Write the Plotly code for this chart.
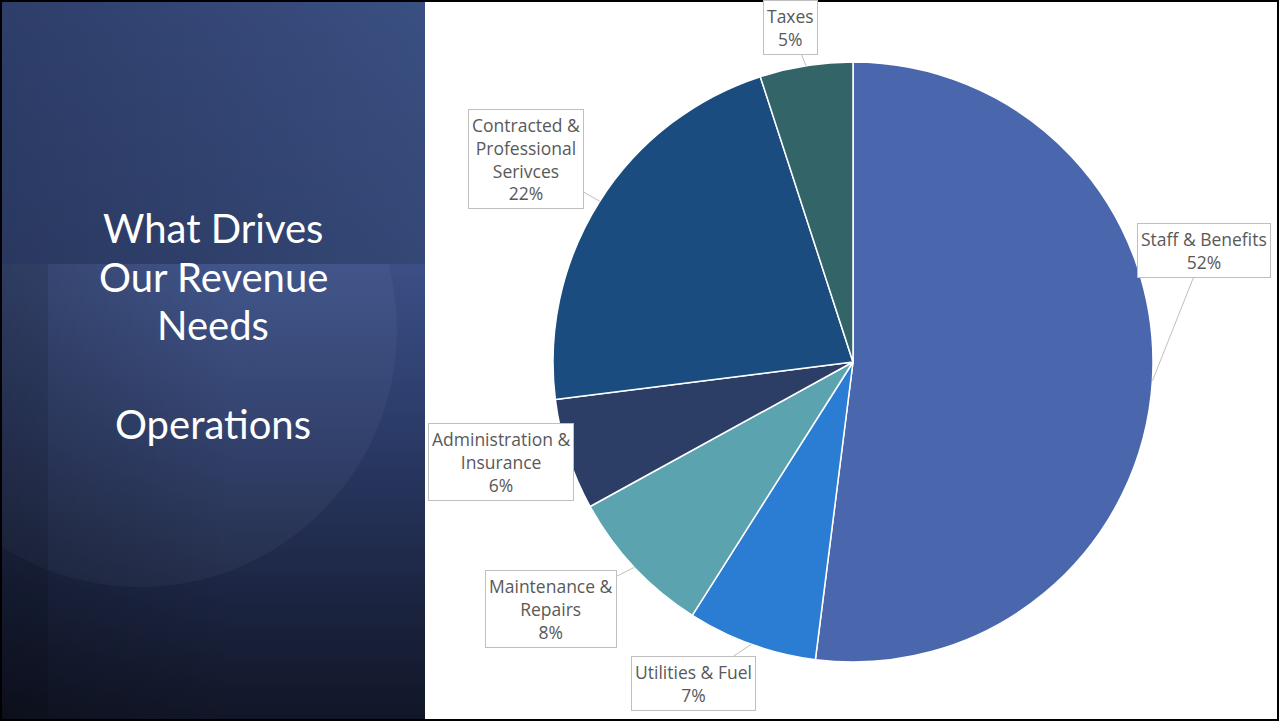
import base64
import math
import plotly.graph_objects as go

# ---- data ----
categories = ["Staff & Benefits", "Utilities & Fuel", "Maintenance & Repairs",
              "Administration & Insurance", "Contracted & Professional Serivces", "Taxes"]
label_text = ["Staff & Benefits", "Utilities & Fuel", "Maintenance &<br>Repairs",
              "Administration &<br>Insurance", "Contracted &<br>Professional<br>Serivces", "Taxes"]
shares = [52, 7, 8, 6, 22, 5]
colors = ["#4A67AE", "#2B7CD3", "#5BA3AE", "#2C3D66", "#1B4C80", "#336468"]
box_centers_px = [(1204, 251), (693, 683), (551, 609), (501, 462), (526, 159), (790, 27)]
title_lines = ["What Drives", "Our Revenue", "Needs", "Operations"]
title_line_y = [228, 277, 325, 424]

W, H = 1279, 721
CX, CY, R = 853, 362, 300
PANEL_W = 425

fig = go.Figure()
fig.add_trace(go.Pie(
    labels=categories, values=shares, sort=False, direction="clockwise", rotation=0,
    marker=dict(colors=colors, line=dict(color="white", width=1.5)),
    textinfo="none", hoverinfo="label+percent", showlegend=False,
    domain=dict(x=[(CX - R) / W, (CX + R) / W], y=[1 - (CY + R) / H, 1 - (CY - R) / H]),
))

total = sum(shares)
cum = 0
annotations = []
for name, val, (bx, by) in zip(label_text, shares, box_centers_px):
    mid = (cum + val / 2) / total * 2 * math.pi
    cum += val
    px = CX + R * math.sin(mid)
    py = CY - R * math.cos(mid)
    annotations.append(dict(
        x=px / W, y=1 - py / H, xref="paper", yref="paper",
        ax=bx - px, ay=by - py, axref="pixel", ayref="pixel",
        text=f"{name}<br>{val}%", showarrow=True, arrowhead=0, arrowwidth=1,
        arrowcolor="#BFBFBF", bordercolor="#BFBFBF", borderwidth=1, borderpad=3,
        bgcolor="white", font=dict(family="Open Sans", size=17.5, color="#595959"),
        align="center",
    ))

for line, ly in zip(title_lines, title_line_y):
    annotations.append(dict(
        x=213 / W, y=1 - ly / H, xref="paper", yref="paper", showarrow=False,
        text=line, font=dict(family="Lato", size=40, color="white"),
        xanchor="center", yanchor="middle",
    ))

svg = f"""<svg xmlns='http://www.w3.org/2000/svg' width='{PANEL_W}' height='{H}' viewBox='0 0 {PANEL_W} {H}'>
<defs>
<linearGradient id='v' x1='0' y1='0' x2='0' y2='1'>
<stop offset='0.366' stop-color='#3b4f86'/>
<stop offset='0.6' stop-color='#2b3b68'/>
<stop offset='0.82' stop-color='#1c2542'/>
<stop offset='1' stop-color='#111627'/>
</linearGradient>
<linearGradient id='t' x1='0' y1='0' x2='1' y2='0'>
<stop offset='0' stop-color='#2e3e6a'/>
<stop offset='1' stop-color='#3a4f82'/>
</linearGradient>
<linearGradient id='td' x1='0' y1='0' x2='0' y2='1'>
<stop offset='0' stop-color='#000' stop-opacity='0'/>
<stop offset='1' stop-color='#000' stop-opacity='0.1'/>
</linearGradient>
<linearGradient id='h' x1='0' y1='0' x2='1' y2='0'>
<stop offset='0' stop-color='#000' stop-opacity='0.22'/>
<stop offset='0.55' stop-color='#000' stop-opacity='0'/>
</linearGradient>
</defs>
<rect width='{PANEL_W}' height='{H}' fill='url(#v)'/>
<circle cx='140' cy='330' r='257' fill='#ffffff' fill-opacity='0.04'/>
<rect width='{PANEL_W}' height='{H}' fill='url(#h)'/>
<rect x='0' y='264' width='48' height='{H-264}' fill='#000' fill-opacity='0.1'/>
<rect width='{PANEL_W}' height='264' fill='url(#t)'/>
<rect width='{PANEL_W}' height='264' fill='url(#td)'/>
</svg>"""
src = "data:image/svg+xml;base64," + base64.b64encode(svg.encode()).decode()

fig.update_layout(
    width=W, height=H, margin=dict(l=0, r=0, t=0, b=0),
    paper_bgcolor="white", plot_bgcolor="white",
    annotations=annotations,
    images=[dict(source=src, xref="paper", yref="paper", x=0, y=1,
                 sizex=PANEL_W / W, sizey=1, sizing="stretch", layer="below",
                 xanchor="left", yanchor="top")],
    shapes=[dict(type="rect", xref="paper", yref="paper", x0=0, y0=0, x1=1, y1=1,
                 line=dict(color="black", width=4), fillcolor="rgba(0,0,0,0)")],
)

fig.write_html("out.html", config={"displayModeBar": False})
